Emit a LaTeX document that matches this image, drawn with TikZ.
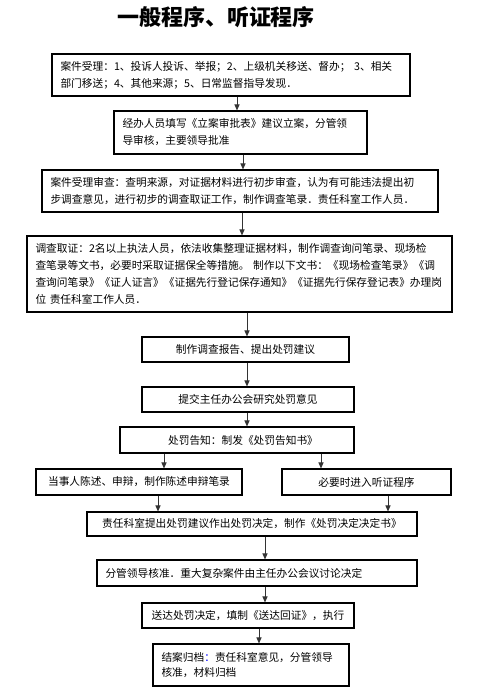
\documentclass[tikz,border=0pt]{standalone}
\usepackage{fontspec}
\setmainfont{Noto Sans CJK SC}
\usetikzlibrary{arrows.meta}
\newcommand\bodyfont{\fontsize{10.7}{17}\selectfont}
\newcommand\titlefont{\fontsize{22}{26}\bfseries\selectfont}

\tikzset{
  box/.style={draw, line width=1.1pt, inner sep=0pt, font=\bodyfont},
  lbox/.style={box, align=left, inner xsep=8.5pt},
  arr/.style={line width=1pt, black!80, -{Triangle[length=6pt,width=5pt]}},
}

\begin{document}
\begin{tikzpicture}[x=1pt, y=-1pt]
    \useasboundingbox[fill=white] (0,0) rectangle (501,694);

    % title
    \node[font=\titlefont] (title) at (216,17) {一般程序、听证程序};

    % main column
    \node[lbox, minimum width=358, minimum height=42, text width=341] (b1) at (231,75)
        {案件受理：1、投诉人投诉、举报；2、上级机关移送、督办； 3、相关\\部门移送；4、其他来源；5、日常监督指导发现．};
    \node[lbox, minimum width=253, minimum height=43, text width=236] (b2) at (240.5,132.5)
        {经办人员填写《立案审批表》建议立案，分管领\\导审核，主要领导批准};
    \node[lbox, minimum width=396, minimum height=42, text width=379] (b3) at (240,191)
        {案件受理审查：查明来源，对证据材料进行初步审查，认为有可能违法提出初\\步调查意见，进行初步的调查取证工作，制作调查笔录．责任科室工作人员．};
    \node[lbox, minimum width=425, minimum height=76, text width=408] (b4) at (239.5,274)
        {调查取证：2名以上执法人员，依法收集整理证据材料，制作调查询问笔录、现场检\\查笔录等文书，必要时采取证据保全等措施。 制作以下文书：《现场检查笔录》《调\\查询问笔录》《证人证言》《证据先行登记保存通知》《证据先行保存登记表》办理岗\\位 责任科室工作人员．};
    \node[box, minimum width=207, minimum height=25] (b5) at (245.5,349.5) {制作调查报告、提出处罚建议};
    \node[box, minimum width=212, minimum height=25] (b6) at (248,399.5) {提交主任办公会研究处罚意见};
    \node[box, minimum width=234, minimum height=26] (b7) at (237,440) {\hspace{12pt}处罚告知：制发《处罚告知书》};

    % two branches
    \node[box, minimum width=206, minimum height=26] (b8a) at (139,482) {当事人陈述、申辩，制作陈述申辩笔录};
    \node[box, minimum width=169, minimum height=26] (b8b) at (366.5,482) {必要时进入听证程序\hspace{8pt}};

    \node[box, minimum width=330, minimum height=24] (b9) at (252,524) {责任科室提出处罚建议作出处罚决定，制作《处罚决定决定书》\hspace{8pt}};
    \node[lbox, minimum width=320, minimum height=26, text width=303] (b10) at (257,573)
        {分管领导核准．重大复杂案件由主任办公会议讨论决定};
    \node[box, minimum width=212, minimum height=25] (b11) at (248,615.5) {送达处罚决定，填制《送达回证》，执行};
    \node[lbox, minimum width=196, minimum height=42, text width=179, font=\fontsize{10.7}{15}\selectfont] (b12) at (251,665)
        {结案归档{\color{blue}：}责任科室意见，分管领导\\核准，材料归档};

    % arrows
    \draw[arr] ([xshift=6]b1.south) -- ([xshift=-3.5]b2.north);
    \draw[arr] ([xshift=2.5]b2.south) -- ([xshift=3]b3.north);
    \draw[arr] ([xshift=2]b3.south) -- ([xshift=2.5]b4.north);
    \draw[arr] ([xshift=7.5]b4.south) -- ([xshift=1.5]b5.north);
    \draw[arr] ([xshift=1.5]b5.south) -- ([xshift=-1]b6.north);
    \draw[arr] ([xshift=-1]b6.south) -- ([xshift=10]b7.north);
    \draw[arr] ([xshift=-73]b7.south) -- ([xshift=25]b8a.north);
    \draw[arr] ([xshift=84]b7.south) -- ([xshift=-45.5]b8b.north);
    \draw[arr] ([xshift=19]b8a.south) -- ([xshift=-94]b9.north);
    \draw[arr] ([xshift=21.5]b8b.south) -- ([xshift=136]b9.north);
    \draw[arr] ([xshift=13]b9.south) -- ([xshift=8]b10.north);
    \draw[arr] ([xshift=8]b10.south) -- ([xshift=17]b11.north);
    \draw[arr] ([xshift=11]b11.south) -- ([xshift=8]b12.north);
\end{tikzpicture}
\end{document}
